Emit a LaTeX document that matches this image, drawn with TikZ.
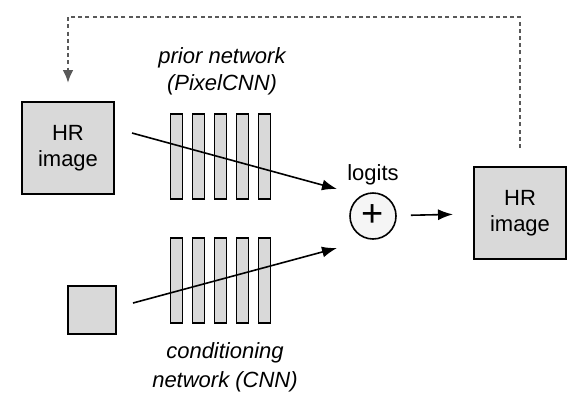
\documentclass[tikz,border=0pt]{standalone}
\usepackage{fontspec}
\setmainfont{Liberation Sans}
\usepackage{tikz}
\usetikzlibrary{arrows.meta}

\tikzset{
  img/.style={draw, line width=1pt, fill=gray!30, minimum size=46pt, inner sep=0pt, align=center, font=\fontsize{11}{13}\selectfont},
  lrimg/.style={draw, line width=1pt, fill=gray!30, minimum size=24pt, inner sep=0pt},
  layer/.style={draw, semithick, fill=gray!30, minimum width=6pt, minimum height=42.5pt, inner sep=0pt},
  sumnode/.style={draw, thick, circle, fill=gray!8, minimum size=23pt, inner sep=0pt, font=\fontsize{19}{19}\selectfont},
  arr/.style={-{Latex[length=7.5pt,width=5.5pt]}, thick},
  loopback/.style={-{Latex[length=6.5pt,width=5.5pt]}, line width=1.3pt, dash pattern=on 2pt off 1.6pt, gray!70!black},
  lab/.style={font=\fontsize{11}{13}\selectfont, align=center}
}

\begin{document}
\begin{tikzpicture}[x=0.5pt,y=-0.5pt]
 \useasboundingbox (0,0) rectangle (582,404);

 \coordinate (s1) at (132,133);
 \coordinate (t1) at (337,189);
 \coordinate (s2) at (133,303);
 \coordinate (t2) at (337,248);

 \coordinate (d1) at (520,148);
 \coordinate (d2) at (520,17);
 \coordinate (d3) at (68,17);
 \coordinate (d4) at (68,83);


\node [img] (hrin) at (68,148) {HR\\image};
\node [lrimg] (lrin) at (92,310) {};
\node [img] (hrout) at (520,213) {HR\\image};

\foreach \i in {1,...,5}
  \node [layer] (p\i) at (176.5+22*\i-22,156.5) {};
\foreach \i in {1,...,5}
  \node [layer] (c\i) at (176.5+22*\i-22,280.5) {};

\node [sumnode] (sum) at (373,216) {+};


\draw[arr] (s1)--(t1);
\draw[arr] (s2)--(t2);
\draw[arr, shorten <=7pt, shorten >=10pt] (sum)--(hrout);

\draw[loopback] (d1)--(d2)--(d3)--(d4);


\node [lab] at (222,58) {\itshape prior network};
\node [lab] at (222,85) {\itshape (PixelCNN)};
\node [lab, above] at (sum.north) {logits};
\node [lab] at (225,353) {\itshape conditioning};
\node [lab] at (225,382) {\itshape network (CNN)};

\end{tikzpicture}
\end{document}
